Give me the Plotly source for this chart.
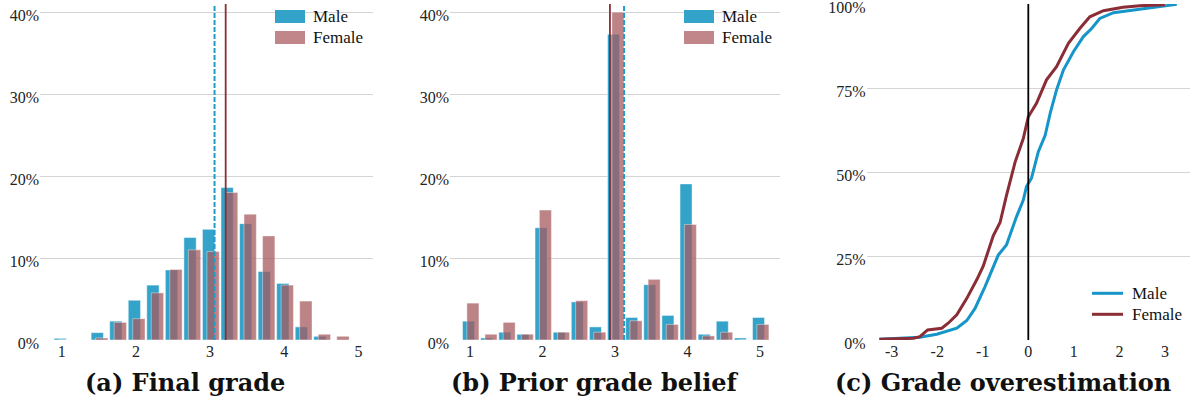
import plotly.graph_objects as go

# ---------------- data ----------------
bins = [1.0, 1.25, 1.5, 1.75, 2.0, 2.25, 2.5, 2.75, 3.0, 3.25, 3.5, 3.75, 4.0, 4.25, 4.5, 4.75, 5.0]

final_male = [0.2, 0.0, 0.9, 2.3, 4.85, 6.7, 8.55, 12.5, 13.5, 18.6, 14.2, 8.35, 6.9, 1.6, 0.45, 0.0, 0.0]
final_female = [0.0, 0.0, 0.25, 2.15, 2.6, 5.75, 8.6, 11.0, 10.8, 18.0, 15.35, 12.7, 6.7, 4.75, 0.7, 0.45, 0.0]

prior_male = [2.3, 0.25, 0.95, 0.7, 13.7, 0.95, 4.65, 1.6, 37.3, 2.75, 6.75, 3.0, 19.05, 0.7, 2.3, 0.25, 2.75]
prior_female = [4.5, 0.7, 2.15, 0.7, 15.85, 0.95, 4.8, 0.95, 40.0, 2.35, 7.4, 1.9, 14.1, 0.5, 0.95, 0.0, 1.9]

mean_final_male = 3.06
mean_final_female = 3.21
mean_prior_male = 3.125
mean_prior_female = 2.93

cdf_male_x = [-3.27, -2.38, -2.01, -1.79, -1.57, -1.35, -1.17, -0.95, -0.77, -0.66, -0.48, -0.26, -0.11,
              -0.04, 0.07, 0.22, 0.37, 0.48, 0.62, 0.77, 0.99, 1.21, 1.39, 1.57, 1.87, 2.30, 2.82, 3.26]
cdf_male_y = [0.2, 0.8, 1.7, 2.7, 3.5, 5.8, 9.4, 15.9, 21.8, 25.3, 28.3, 36.7, 41.7,
              45.7, 48.2, 56.1, 61.0, 67.5, 74.5, 80.4, 85.9, 90.4, 92.8, 95.8, 97.5, 98.3, 99.3, 100.0]

cdf_female_x = [-3.27, -2.52, -2.38, -2.21, -1.90, -1.76, -1.57, -1.35, -1.13, -0.99, -0.77, -0.62, -0.48,
                -0.29, -0.11, 0.0, 0.18, 0.40, 0.62, 0.88, 1.13, 1.35, 1.65, 2.08, 2.45, 3.0]
cdf_female_y = [0.2, 0.5, 1.0, 3.0, 3.5, 5.0, 7.5, 12.4, 18.0, 22.0, 31.0, 35.0, 43.0,
                53.0, 60.0, 66.5, 70.5, 77.5, 81.4, 88.4, 92.8, 96.3, 98.1, 99.1, 99.6, 99.9]

hist_ticks = [1, 2, 3, 4, 5]
hist_ticklabels = ["1", "2", "3", "4", "5"]
hist_yticks = [0, 10, 20, 30, 40]
hist_yticklabels = ["0%", "10%", "20%", "30%", "40%"]
cdf_ticks = [-3, -2, -1, 0, 1, 2, 3]
cdf_ticklabels = ["-3", "-2", "-1", "0", "1", "2", "3"]
cdf_yticks = [0, 25, 50, 75, 100]
cdf_yticklabels = ["0%", "25%", "50%", "75%", "100%"]

titles = ["(a) Final grade", "(b) Prior grade belief", "(c) Grade overestimation"]
legend_labels = ["Male", "Female"]

# ---------------- styles ----------------
W, H = 1194, 405
MALE_BAR = "rgb(51,163,201)"
FEMALE_BAR = "rgba(167,91,95,0.75)"
MALE_LINE = "rgb(22,150,200)"
FEMALE_LINE = "rgb(139,45,54)"
GRID = "#d4d4d4"
SERIF = "Times New Roman"
TICKFONT = dict(family=SERIF, size=16, color="#222")
BAR_W = 0.166

def px_x(p):
    return p / W

def px_y(p):
    return (H - p) / H

ydom = [px_y(340), px_y(4)]

fig = go.Figure()

def add_hist(male, female, xa, ya):
    fig.add_trace(go.Bar(x=bins, y=male, width=BAR_W, offset=-0.103, marker=dict(color=MALE_BAR,
                         line=dict(color="rgba(255,255,255,0.6)", width=0.8)),
                         xaxis=xa, yaxis=ya, showlegend=False))
    fig.add_trace(go.Bar(x=bins, y=female, width=BAR_W, offset=-0.043, marker=dict(color=FEMALE_BAR,
                         line=dict(color="rgba(255,255,255,0.5)", width=0.8)),
                         xaxis=xa, yaxis=ya, showlegend=False))

add_hist(final_male, final_female, "x", "y")
add_hist(prior_male, prior_female, "x2", "y2")

fig.add_trace(go.Scatter(x=cdf_male_x, y=cdf_male_y, mode="lines", line=dict(color=MALE_LINE, width=3),
                         xaxis="x3", yaxis="y3", showlegend=False))
fig.add_trace(go.Scatter(x=cdf_female_x, y=cdf_female_y, mode="lines", line=dict(color=FEMALE_LINE, width=3),
                         xaxis="x3", yaxis="y3", showlegend=False))

shapes = []
def vline(x, xref, yref, color, width, dash="solid"):
    shapes.append(dict(type="line", x0=x, x1=x, y0=0, y1=1, xref=xref, yref=yref + " domain",
                       line=dict(color=color, width=width, dash=dash)))

vline(mean_final_male, "x", "y", "rgb(31,155,208)", 2, "5px,2px")
vline(mean_final_female, "x", "y", FEMALE_LINE, 1.8)
vline(mean_prior_female, "x2", "y2", FEMALE_LINE, 1.8)
vline(mean_prior_male, "x2", "y2", "rgb(31,155,208)", 2, "5px,2px")
vline(0, "x3", "y3", "black", 1.8)

annotations = []
LEGFONT = dict(family=SERIF, size=17, color="#111")

def patch_legend(x0):
    for i, (lab, col) in enumerate(zip(legend_labels, [MALE_BAR, "rgb(192,134,138)"])):
        yt = 10 + i * 21
        shapes.append(dict(type="rect", xref="paper", yref="paper", x0=px_x(x0), x1=px_x(x0 + 30),
                           y0=px_y(yt + 13), y1=px_y(yt), fillcolor=col, line=dict(width=0)))
        annotations.append(dict(text=lab, xref="paper", yref="paper", x=px_x(x0 + 36), y=px_y(yt + 7),
                                xanchor="left", yanchor="middle", showarrow=False, font=LEGFONT))

patch_legend(275)
patch_legend(684)

for i, (lab, col) in enumerate(zip(legend_labels, [MALE_LINE, FEMALE_LINE])):
    yc = 293.3 + i * 21
    shapes.append(dict(type="line", xref="paper", yref="paper", x0=px_x(1092), x1=px_x(1123),
                       y0=px_y(yc), y1=px_y(yc), line=dict(color=col, width=3)))
    annotations.append(dict(text=lab, xref="paper", yref="paper", x=px_x(1130), y=px_y(yc),
                            xanchor="left", yanchor="middle", showarrow=False, font=LEGFONT))

for t, cx in zip(titles, [185, 595, 1003]):
    annotations.append(dict(text="<b>" + t + "</b>", xref="paper", yref="paper", x=px_x(cx), y=px_y(382),
                            xanchor="center", yanchor="middle", showarrow=False,
                            font=dict(family="DejaVu Serif", size=24, color="#111")))

def xaxis(dom, rng, ticks, labels, anchor):
    return dict(domain=dom, range=rng, tickvals=ticks, ticktext=labels, showgrid=False, zeroline=False,
                showline=False, ticks="", tickfont=TICKFONT, anchor=anchor, fixedrange=True,
                automargin=False)

def yaxis(rng, tv, tt, anchor):
    return dict(domain=ydom, range=rng, tickvals=tv, ticktext=tt, showgrid=True, gridcolor=GRID, gridwidth=1,
                zeroline=False, showline=False, ticks="", tickfont=TICKFONT, anchor=anchor, fixedrange=True,
                ticklabeloverflow="allow", automargin=False, ticklabelshift=3)

fig.update_layout(
    width=W, height=H, margin=dict(l=0, r=0, t=0, b=0, autoexpand=False),
    font=dict(family=SERIF, size=16, color="#222"),
    paper_bgcolor="white", plot_bgcolor="white", barmode="overlay", showlegend=False,
    xaxis=xaxis([px_x(40), px_x(373)], [0.708, 5.195], hist_ticks, hist_ticklabels, "y"),
    yaxis=yaxis([0, 41], hist_yticks, hist_yticklabels, "x"),
    xaxis2=xaxis([px_x(450), px_x(780)], [0.724, 5.276], hist_ticks, hist_ticklabels, "y2"),
    yaxis2=yaxis([0, 41], hist_yticks, hist_yticklabels, "x2"),
    xaxis3=xaxis([px_x(866.7), px_x(1190)], [-3.548, 3.55], cdf_ticks, cdf_ticklabels, "y3"),
    yaxis3=yaxis([0, 100.1], cdf_yticks, cdf_yticklabels, "x3"),
    shapes=shapes, annotations=annotations,
)

fig.write_html("out.html")
